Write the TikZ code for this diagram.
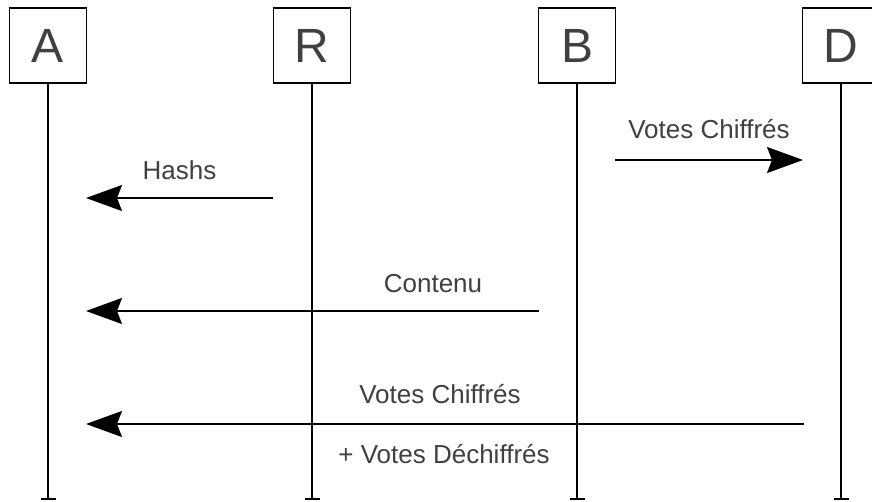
\documentclass[tikz,border=0pt]{standalone}
\usepackage{fontspec}
\setmainfont{Liberation Sans}
\usetikzlibrary{arrows.meta}
\definecolor{txt}{RGB}{64,64,64}
\tikzset{
  actor/.style={draw=black, line width=1.8pt, fill=white, minimum width=77pt,
    minimum height=75pt, inner sep=0pt, text=txt, font=\fontsize{48}{48}\selectfont},
  lifeline/.style={line width=1.8pt, black},
  msg/.style={line width=1.8pt, black, -{Stealth[length=36pt,width=26pt,inset=5pt]}},
  lbl/.style={text=txt, font=\fontsize{26}{26}\selectfont, anchor=base, inner sep=0pt},
}
\begin{document}
\begin{tikzpicture}[x=1pt,y=-1pt]
  \useasboundingbox (0,0) rectangle (872,501);
  \clip (0,0) rectangle (872,501);

  % participants
  \node[actor] (a) at (48,45.5) {A};
  \node[actor] (r) at (312,45.5) {R};
  \node[actor] (b) at (577,45.5) {B};
  \node[actor] (d) at (841,45.5) {D};

  % lifeline ends
  \coordinate (ea) at (48,499);
  \coordinate (er) at (312,499);
  \coordinate (eb) at (577,499);
  \coordinate (ed) at (841,499);
  \foreach \p in {a,r,b,d}{
    \draw[lifeline] (\p.south) -- (e\p);
    \draw[lifeline] ([xshift=-7.5pt]e\p) -- ([xshift=7.5pt]e\p);
  }

  % message end points
  \coordinate (m1s) at (615,160);  \coordinate (m1e) at (803,160);
  \coordinate (m2s) at (273,198);  \coordinate (m2e) at (86,198);
  \coordinate (m3s) at (539,311);  \coordinate (m3e) at (86,311);
  \coordinate (m4s) at (804,424);  \coordinate (m4e) at (86,424);

  \draw[msg] (m1s) -- (m1e);
  \draw[msg] (m2s) -- (m2e);
  \draw[msg] (m3s) -- (m3e);
  \draw[msg] (m4s) -- (m4e);

  % message labels
  \node[lbl] (l1) at (709,138) {Votes Chiffrés};
  \node[lbl] (l2) at (179.5,179) {Hashs};
  \node[lbl] (l3) at (433,292) {Contenu};
  \node[lbl] (l4) at (440,403) {Votes Chiffrés};
  \node[lbl] (l5) at (444,463) {+ Votes Déchiffrés};
\end{tikzpicture}
\end{document}
